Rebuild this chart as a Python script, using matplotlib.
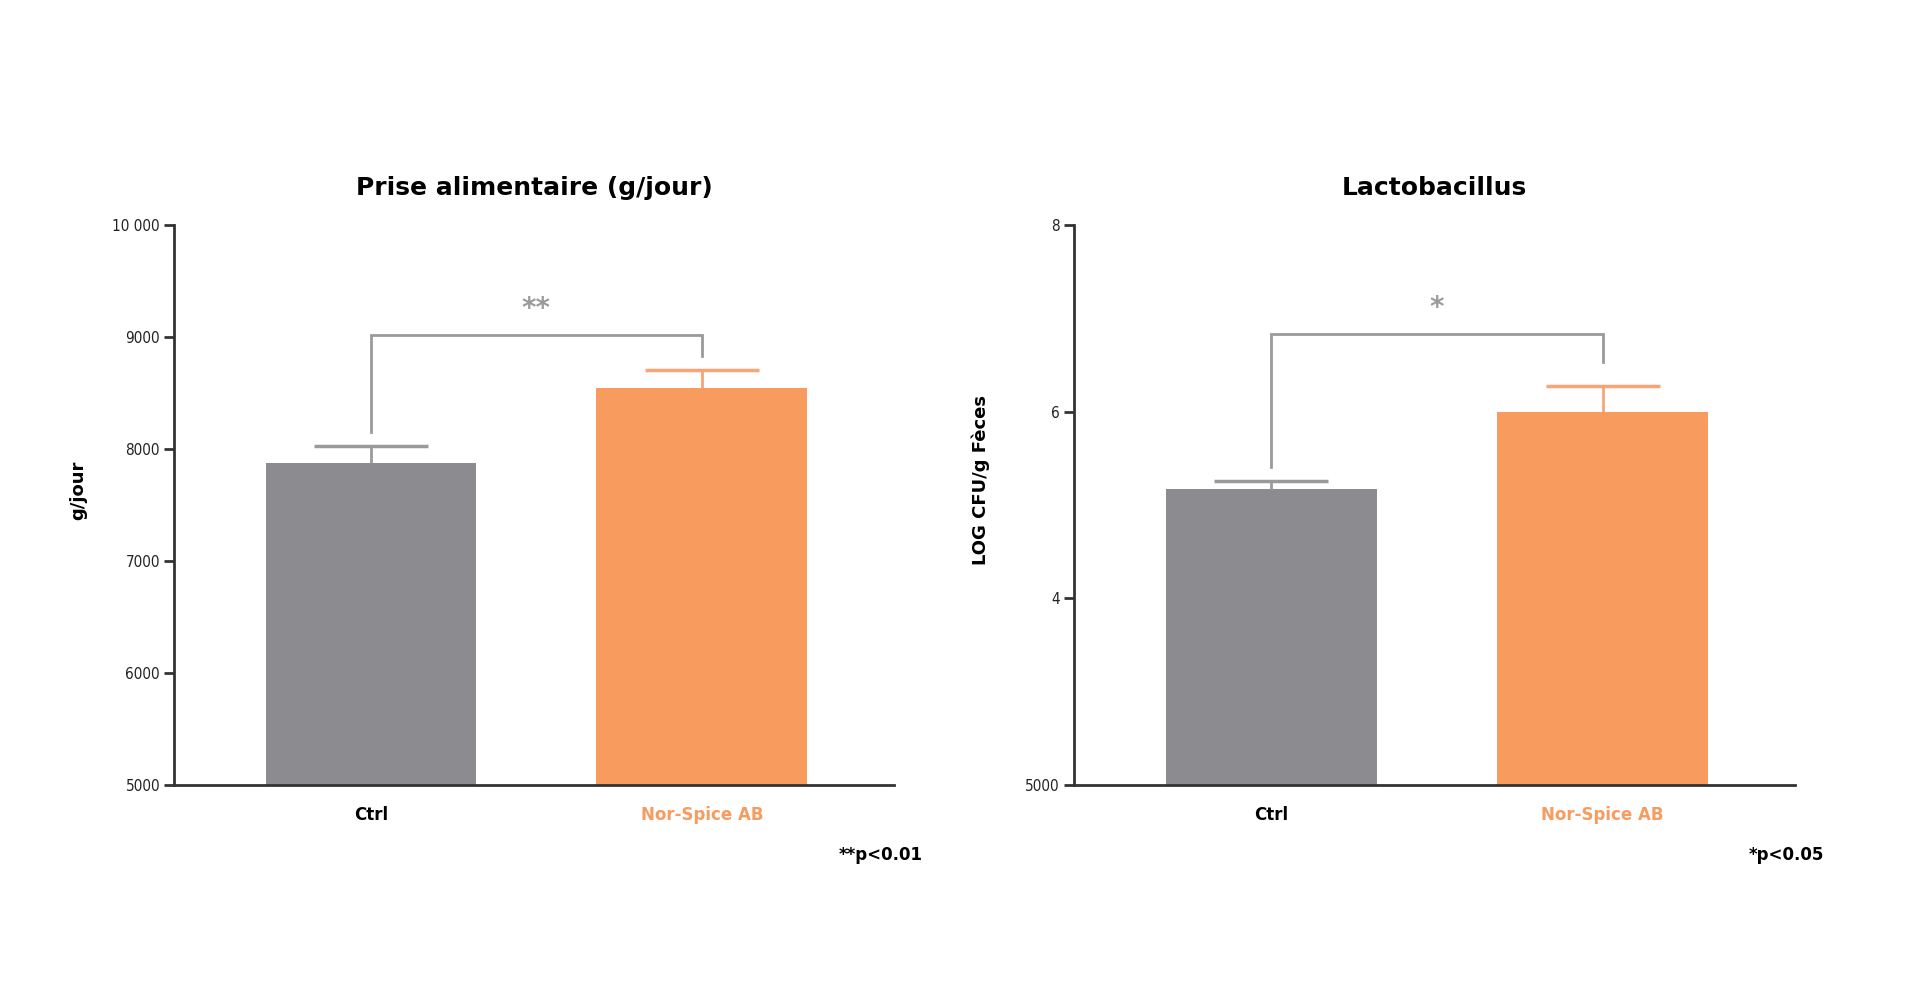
import matplotlib.pyplot as plt

# Data
groups = ["Ctrl", "Nor-Spice AB"]

intake_mean = [7880, 8550]
intake_err = [150, 155]
intake_ticks = [5000, 6000, 7000, 8000, 9000, 10000]
intake_tick_labels = ["5000", "6000", "7000", "8000", "9000", "10 000"]
intake_bracket = [8150, 9020, 8830]  # left leg end, top, right leg end

lacto_mean = [5.17, 6.0]
lacto_err = [0.09, 0.28]
lacto_ticks = [2, 4, 6, 8]
lacto_tick_labels = ["5000", "4", "6", "8"]  # bottom label as printed in the source
lacto_bracket = [5.41, 6.83, 6.53]

GREY = "#8c8c90"
ORANGE = "#f79b5e"
ERR_GREY = "#9a9a9a"
ERR_ORANGE = "#f8a474"
SPINE = "#333333"

plt.rcParams["font.family"] = ["DejaVu Sans"]

fig = plt.figure(figsize=(19.2, 9.84), dpi=100)


def draw_panel(rect, means, errs, ylim, ticks, tick_labels, bracket, star,
               title, ylabel, ylabel_x, ylabel_pos, note):
    ax = fig.add_axes(rect)
    x = [0, 1]
    ax.bar(x, means, width=0.637, color=[GREY, ORANGE], zorder=2)
    for xi, m, e, c in zip(x, means, errs, [ERR_GREY, ERR_ORANGE]):
        eb = ax.errorbar(xi, m, yerr=[[0], [e]], fmt="none", ecolor=c,
                         elinewidth=2, capsize=41, capthick=2.5, zorder=3)
        eb[1][0].set_visible(False)  # only the upper cap

    # significance bracket
    ax.plot([0, 0, 1, 1], [bracket[0], bracket[1], bracket[1], bracket[2]],
            color=ERR_GREY, lw=2, solid_joinstyle="miter")
    ax.text(0.5, bracket[1] + (ylim[1] - ylim[0]) * 0.022, star,
            ha="center", va="bottom", fontsize=20, color=ERR_GREY,
            fontweight="bold")

    ax.set_xlim(-0.596, 1.581)
    ax.set_ylim(*ylim)
    ax.set_yticks(ticks)
    ax.set_yticklabels(tick_labels, fontsize=11, color="#222222",
                       fontstretch="condensed")
    ax.set_xticks(x)
    ax.set_xticklabels(groups, fontsize=12, fontweight="bold")
    ax.get_xticklabels()[1].set_color(ORANGE)
    ax.tick_params(axis="x", length=0, pad=15)
    ax.tick_params(axis="y", length=7, width=2, color=SPINE, pad=3)

    for s in ["top", "right"]:
        ax.spines[s].set_visible(False)
    for s in ["left", "bottom"]:
        ax.spines[s].set_color(SPINE)
        ax.spines[s].set_linewidth(2)

    ax.set_title(title, fontsize=18, fontweight="bold", pad=22)
    fig.text(ylabel_x, rect[1] + rect[3] * ylabel_pos, ylabel, rotation=90,
             ha="center", va="center", fontsize=13, fontweight="bold")
    fig.text(rect[0] + rect[2] * 1.04, 0.131, note, ha="right",
             va="center", fontsize=12, fontweight="bold")
    return ax


draw_panel([0.0906, 0.2023, 0.375, 0.5687], intake_mean, intake_err,
           (5000, 10000), intake_ticks, intake_tick_labels, intake_bracket,
           "**", "Prise alimentaire (g/jour)", "g/jour", 0.041, 0.527,
           "**p<0.01")

draw_panel([0.5593, 0.2023, 0.3756, 0.5687], lacto_mean, lacto_err,
           (2, 8), lacto_ticks, lacto_tick_labels, lacto_bracket,
           "*", "Lactobacillus", "LOG CFU/g Fèces", 0.511, 0.545,
           "*p<0.05")

fig.savefig("out.png", dpi=100, facecolor="white")
